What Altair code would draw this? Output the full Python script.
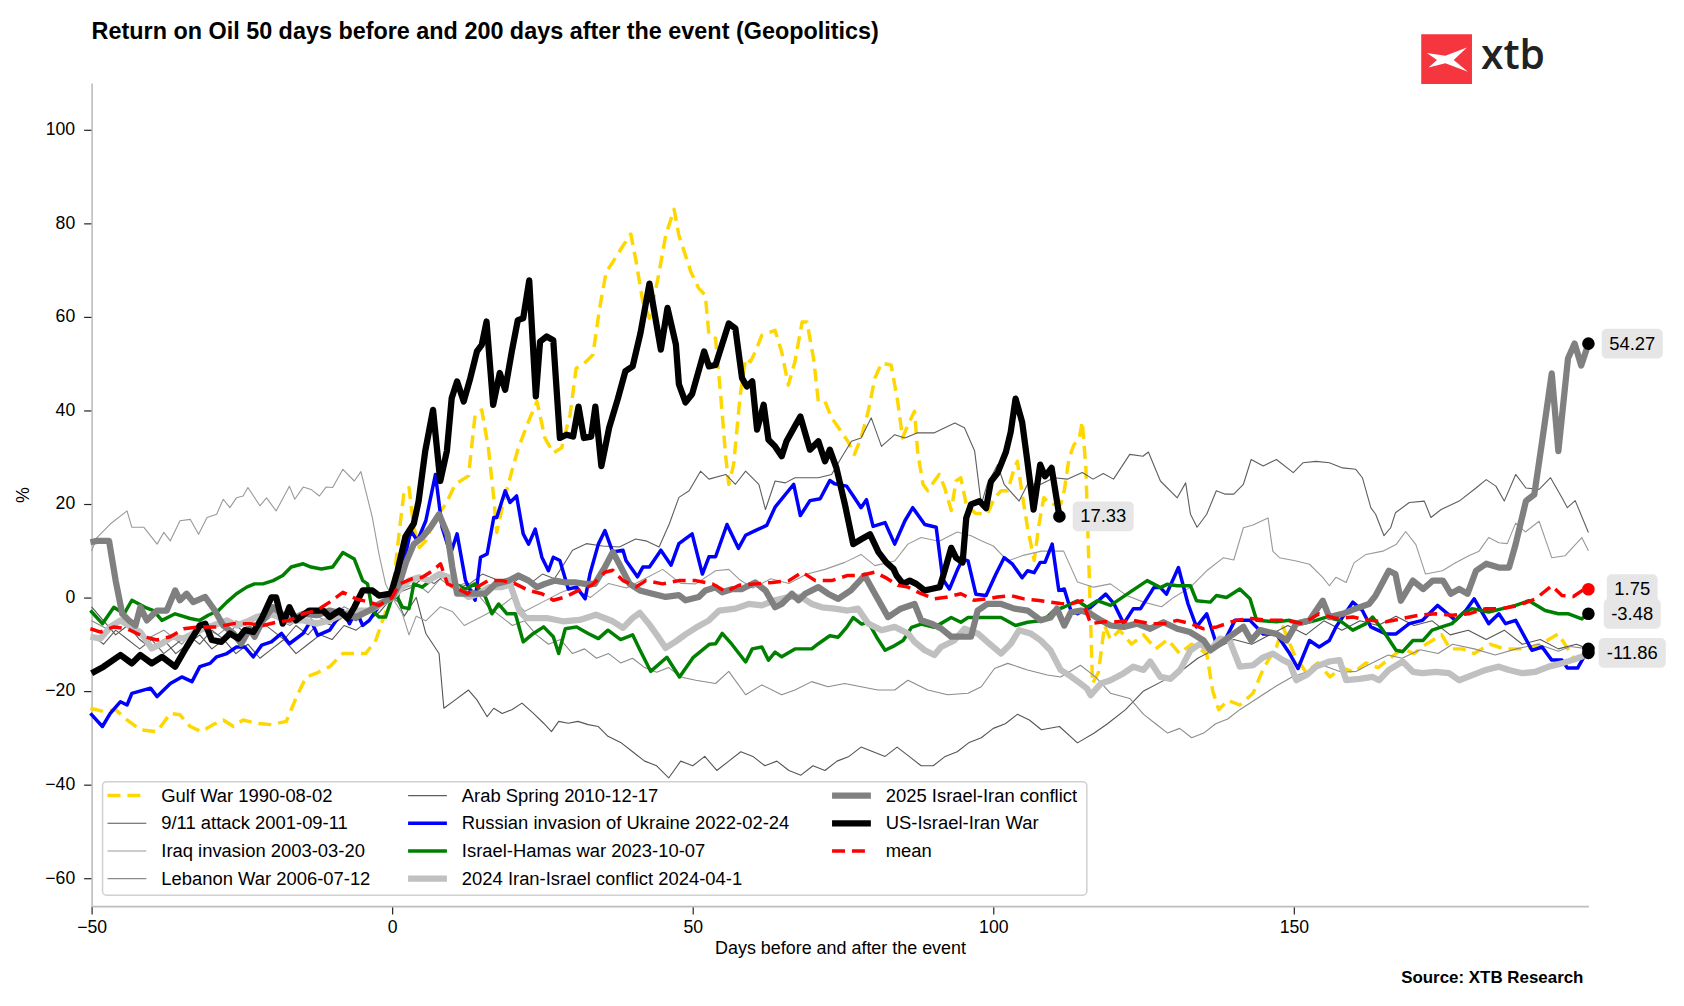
import altair as alt
import pandas as pd

FONT = "Liberation Sans"

# ---------------- data (day, return %) ----------------
GULF = [(-50.2,-23.7),(-48,-24.4),(-46,-24),(-44.1,-26.2),(-41.9,-28.3),(-39.1,-28.7),(-36.9,-24.8),
        (-35.3,-25.1),(-33.6,-27.6),(-31.7,-28.7),(-29.8,-27.2),(-28.1,-26.2),(-26.4,-27.6),(-24.8,-26.2),
        (-22.6,-26.9),(-20.1,-27.2),(-17.6,-26.5),(-15.9,-21.2),(-14.3,-17),(-12.6,-16.2),(-10.4,-14.8),
        (-8.2,-12),(-6,-12),(-4.4,-12),(-2.7,-9.1),(-1.6,-4.9),(-0.8,-2.1),(0,0),(1.2,14.3),(2,22.8),
        (2.8,23.5),(3.6,15),(4.5,10.7),(5.6,12.1),(7.2,17.1),(8.9,19.9),(10.5,24.2),(12.7,26),(13.8,39.1),
        (14.9,40.1),(16,32),(16.9,21.3),(17.4,13.9),(18.3,19.2),(19.9,27),(21,32),(22.7,37.7),(24.1,41.9),
        (25.4,34.1),(26.8,30.9),(28.2,32),(29.6,39.1),(30.6,49),(31.7,49.7),(33.4,51.9),(34.5,61.8),
        (35.6,69.6),(36.7,71.7),(38.4,75.2),(39.7,77.7),(40.6,71.7),(41.7,63.2),(42.8,59.7),(44.2,68.1),
        (45.5,77.4),(46.9,83),(47.7,77.4),(49.7,69.6),(51,66.1),(52.1,64.6),(52.7,56.1),(53.8,55.4),
        (54.6,44),(55.5,29.9),(56,24.2),(56.8,28.4),(57.9,43.3),(58.8,51.1),(59.6,50.4),(60.4,52.5),
        (61.5,56.1),(63.7,57.1),(64.8,52.5),(65.9,45.4),(67,50.4),(68.2,58.9),(69,58.9),(70.1,51.1),
        (70.9,41.9),(72,41.9),(73.1,38.4),(74.7,35.5),(75.8,33.4),(76.9,30.6),(78,34.1),(79.2,39.8),
        (80.3,46.9),(81.4,50.1),(83,49.7),(84.1,41.9),(84.9,34.1),(85.8,36.9),(86.9,39.8),(87.4,31.3),
        (88.3,24.2),(89.1,22.8),(90.2,24.9),(91,26.3),(91.9,23.5),(93,18.6),(93.8,24.9),(94.6,25.6),
        (95.5,19.9),(97,18),(99,17.8),(100.2,21.3),(101.3,22.8),(102.4,22.8),(103.5,27.7),(104,29.1),
        (104.9,21.3),(105.7,14.9),(106.8,7.9),(107.6,15.6),(108.4,21.3),(109.5,19.9),(111.2,19.9),
        (111.8,22.8),(112.6,29.8),(113.4,32.6),(114.3,34.1),(114.8,37.6),(115.4,27.7),(116,3),(116.5,-18.4),
        (117.5,-16),(118.5,-6),(119.5,-9),(121,-7),(123,-10),(125,-8),(127,-11),(129,-9),(131,-12),
        (133,-10),(135.5,-12),(136.5,-20),(137.5,-24),(139,-22),(141,-23),(143.2,-20.5),(145,-15),
        (147.1,-10.6),(148.2,-6.3),(150,-12),(152,-16),(154,-14),(156,-17),(158,-15),(160,-16),(162,-14),
        (164,-15),(166,-13),(168,-11),(170,-12),(172,-10),(174.6,-8),(176,-11),(178,-11),(180,-12),
        (182.6,-10),(185,-11),(188.8,-11),(191,-10),(194,-7.8),(196.8,-13.5),(199,-12)]

NINE11 = [(-50,-2),(-48,-5),(-46,-8),(-44,-6),(-42,-9),(-40,-11),(-38,-9),(-36,-12),(-34,-10),(-32,-8),
          (-30,-11),(-28,-9),(-26,-12),(-24,-10),(-22,-13),(-20,-11),(-18,-9),(-16,-12),(-14,-10),(-12,-8),
          (-10,-9),(-8,-6),(-6,-7),(-4,-5),(-2,-3),(0,0),(1,-1),(2,-4),(4,0),(5.6,-7.7),(7.8,-12),(8.6,-23.7),
          (10.5,-21.9),(12.7,-19.8),(14.1,-21.9),(15.8,-25.5),(16.9,-23.7),(18.3,-24.8),(19.9,-24),
          (21.6,-22.6),(23.5,-24.8),(25.2,-26.9),(26.5,-28.7),(27.7,-26.5),(29.3,-26.9),(30.9,-26.5),
          (32.6,-27.2),(34.3,-27.6),(35.9,-29.7),(38,-31),(40,-33),(42,-35),(44,-36),(46,-38.6),(48,-35),
          (50,-36),(52,-34),(54,-37),(56,-35),(58,-33),(60,-34),(62,-36),(64,-35),(66,-37),(68,-38),
          (70,-36),(72,-37),(74,-35),(76,-34),(78,-32),(80,-33),(82,-34),(84,-32),(86,-34),(88,-36),
          (90,-36),(92,-34),(94,-33),(96,-31),(98,-30),(100,-28),(102,-27),(104,-25),(106,-26.2),
          (108,-28.3),(111,-27.6),(114,-31.1),(116.8,-29),(119,-27),(122,-24),(125,-20),(128,-18),
          (131,-16),(134,-13),(137,-11),(140,-9),(143,-10),(146,-8),(149,-6),(152,-8),(155,-5),(158,-7),
          (161,-5),(164,-6),(167,-4),(170,-6),(173,-5),(176,-8),(179,-7),(182,-9),(185,-7),(188,-10),
          (191,-9),(194,-11),(197,-10),(199,-11)]

IRAQ = [(-50,10),(-49.1,12.8),(-46.9,15.7),(-44.1,18.5),(-43.3,15),(-41.3,15),(-39.1,11.4),(-38,13.9),
        (-36.9,12.1),(-35.3,16.4),(-33.6,16.7),(-32.2,13.5),(-30.8,17.1),(-29.2,17.8),(-28.1,21),(-27,19.2),
        (-25.9,21.3),(-24.8,21.7),(-24,23.5),(-22,19.6),(-20.9,21.3),(-19.3,18.5),(-17.1,23.8),(-16.2,21),
        (-14.8,23.6),(-13.5,23.1),(-12.1,21.7),(-11,23.6),(-9.9,23.5),(-8.2,27.4),(-6.3,24.9),(-5.2,26.9),
        (-4.4,22.8),(-3.3,17.1),(-2.2,9.3),(-1.1,2.9),(0,0),(1.7,-3.5),(2.8,-8),(4,-4),(5.6,-5),(8,-2),
        (10,-3),(12,-6),(15,-4),(18,-2),(20,0),(22,-3),(25,-1),(28,1),(30,2),(33,0),(36,3),(39,2),(42,4),
        (45,6),(48,3),(50.5,2.9),(53.8,5.7),(56,6),(57.7,3.9),(60,2),(63,4),(66,3),(69,5),(72,6),(75.3,7.5),
        (78,9.2),(80.3,6.8),(83.6,7.8),(85.8,11.4),(88,12.8),(91,12),(94,14),(96.3,13.2),(98,12.1),(100,11),
        (102.4,7.8),(105,9),(108,9.9),(111.7,9.9),(114,3.3),(116.7,2.2),(119.5,2.9),(122.2,0.4),(125,-1),
        (128,-2),(130,0),(132.8,2.2),(135.5,5.7),(138.3,8.5),(140,8),(141.6,14.9),(143.2,15.5),(145.7,17),
        (146.5,9.9),(147.6,8.5),(150.4,7.8),(152.6,7.1),(154.8,4.3),(155.9,2.5),(157,4.3),(158.7,3.2),
        (160,7.4),(162,9.2),(164.8,9.9),(167,11.3),(168.6,14.1),(170.3,11.3),(171.9,5),(174.7,5.7),
        (176.9,7.4),(179.1,8.9),(180.8,9.9),(182.4,12.8),(184.1,11.7),(185.5,11.5),(186.9,15.9),(188.5,14),
        (190.8,16.3),(192.9,8.5),(195.1,8.9),(197.9,12.8),(199,10)]

LEBANON = [(-50,-5),(-47,-7),(-44,-4),(-41,-9),(-38,-7),(-35,-10),(-32,-6),(-29,-8),(-26,-5),(-23,-7),
           (-20,-4),(-17,-6),(-14,-3),(-11,-5),(-8,-2),(-5,-4),(-2,-1),(0,0),(2,2),(4,3),(6,1),(8,4),(10,2),
           (12,3),(14,1),(16,-2),(18,-4),(20,-6),(22,-5),(24,-8),(26,-10),(28,-9),(30,-12),(32,-11),(34,-13),
           (36,-12),(38,-14),(40,-13),(42,-15),(44,-16),(46,-15),(48,-17),(50.5,-17.7),(53.8,-18.4),
           (56,-15.8),(58.8,-20.8),(61.5,-18.7),(64.8,-20.8),(67,-19.8),(69.8,-18),(72.5,-19.1),(75.3,-18.4),
           (78,-19.1),(80.8,-19.8),(83.6,-19.8),(85.8,-17.7),(89.1,-19.8),(92.4,-20.8),(95.8,-20.5),
           (98,-19.1),(100.2,-15.2),(102.4,-14.1),(105.7,-15.5),(109,-16.6),(111.2,-17),(114.5,-14.5),
           (117,-17),(119.5,-20.5),(122.7,-21.6),(125,-25),(127,-27),(129,-29),(131,-28),(133,-30),(135,-29),
           (137,-27),(139,-26),(141,-24),(144,-21.5),(147,-19),(149.7,-17),(152,-16),(155,-14.6),(158,-16),
           (160.4,-15.8),(163,-14),(165.7,-12.3),(168,-13),(171,-11.2),(174,-12),(176.4,-10),(180,-11),
           (183.5,-12.3),(187,-11),(190.6,-10),(194,-11.5),(196,-10.5),(199,-11)]

ARAB = [(-50,-8),(-48,-10),(-46,-7),(-44,-9),(-42,-11),(-40,-9),(-38,-12),(-36,-10),(-34,-8),(-32,-10),
        (-30,-7),(-28,-9),(-26,-6),(-24,-8),(-22,-5),(-20,-7),(-18,-9),(-16,-6),(-14,-8),(-12,-5),(-10,-6),
        (-8,-4),(-6,-5),(-4,-3),(-2,-2),(0,0),(1,1),(3,2),(5,4),(7,3),(9,5),(11,2),(13,3),(15,5),(17,4),
        (19,2),(21,4),(23,3),(25,5),(27,4),(29,8),(30,10.1),(32.3,11.5),(35,11),(37.8,10.8),(40.5,12.5),
        (42.2,12.1),(44.4,10.8),(46.1,15.7),(47.7,21.4),(49.4,22.8),(51.3,27),(52.7,25.3),(55.5,26.3),
        (57.1,24.2),(58.8,27),(61,24.2),(62.1,18.8),(63.7,24.9),(65.4,24.5),(67,25.6),(70.9,25.6),
        (73.1,26.3),(74.7,29.8),(76.4,33.4),(78,34.1),(79.7,38.4),(81.4,32.3),(83.6,34.8),(85.3,34.1),
        (87.4,35.2),(90.2,35.2),(93.6,37.3),(95.2,36.3),(96.9,31.3),(98,19.9),(99,24.2),(100.7,28.4),
        (101.8,24.2),(104.3,20.6),(105.7,24.2),(107.9,24.2),(110.1,25.6),(112.3,25.3),(114.8,26.7),
        (116.6,25.3),(118.3,26.5),(120,25.3),(122.7,30.6),(124.9,30.2),(125.8,31.1),(127.8,24.9),
        (130.6,21.3),(132,24.5),(132.8,17.8),(133.9,15),(135.5,17.8),(137.1,22.8),(138.5,22.1),(140,22.1),
        (141.6,24.2),(142.9,29.5),(144.9,28.1),(147.1,29.5),(149.9,26.7),(151.5,28.8),(153.7,29.1),
        (155.9,28.8),(158.1,27.7),(160.3,27.4),(161.4,25.6),(162.8,19.2),(163.6,17.8),(165,13.2),
        (166.1,14.9),(166.9,18.1),(169.2,20.3),(171.7,20.6),(172.8,17.1),(174.5,18.8),(177.5,20.6),
        (180.3,23.4),(182,25.2),(183.6,23.8),(185,20.6),(186.9,26.3),(188.6,23.4),(190.8,23.1),(192.7,25.6),
        (194.6,21.3),(195.5,19.2),(196.8,20.7),(199,13.9)]

RUSSIA = [(-50.2,-24.8),(-48.2,-27.6),(-46.9,-24.8),(-45.2,-22.3),(-44.1,-23),(-43.3,-20.5),(-40.2,-19.4),
          (-39.1,-21.2),(-36.9,-18.4),(-35,-17),(-33.3,-18),(-32,-14.8),(-30.3,-14.1),(-29.2,-12.7),
          (-27.5,-12),(-25.9,-10.6),(-24.5,-10.6),(-23.1,-12.7),(-21.7,-10.2),(-20.1,-9.5),(-18.4,-7.7),
          (-17.1,-9.9),(-14.8,-7.7),(-13.5,-4.9),(-12.4,-8.1),(-10.4,-7),(-9.3,-4.9),(-8.2,-2.8),(-7.1,-5.6),
          (-6,-2.8),(-4.9,-6),(-3.8,-4.9),(-2.7,-2.8),(-1.6,-1),(0,0),(0.9,0.1),(2,7.9),(3.1,14.3),
          (4.2,12.1),(5.6,16.4),(7.2,26.3),(8.3,15),(9.7,9.3),(10.8,13.6),(12.2,3.6),(13.8,-0.6),(14.7,8.6),
          (15.8,9.3),(16.9,17.1),(17.4,17.1),(18.8,22.8),(19.6,20.3),(20.7,21.7),(21.8,13.6),(22.7,11.4),
          (23.8,14.6),(24.9,8.6),(26,5.7),(26.8,8.6),(27.9,7.9),(29.3,1.8),(30.7,2.2),(32.1,-0.3),(32.9,5),
          (34.3,11.4),(35.4,14.3),(36.7,9.7),(38.4,10.1),(38.9,7.9),(40.8,4.4),(41.7,6.5),(42.8,6.5),
          (44.7,10.1),(46.4,6.9),(47.7,11.5),(49.9,13.6),(51.6,5),(52.7,8.7),(53.8,8.7),(55.7,15.6),
          (57.6,10.5),(58.8,13.3),(60.4,14.3),(62.3,15.4),(63.7,19.3),(66.8,24.2),(67.9,17.5),(69.5,20.7),
          (71.2,21.1),(72.8,25),(73.6,24.3),(75.6,23.8),(76.9,21.3),(78,19.2),(78.9,20.9),(80,15.2),(82,16),
          (83.6,11.4),(85.3,16.4),(86.6,19.2),(88.6,15.6),(90.5,15),(91.6,3.9),(92.7,1.8),(94.1,6.1),
          (94.9,8.2),(95.8,7.8),(97.1,0.7),(98.8,0.4),(100.4,4.9),(101.8,8.5),(103.2,7.1),(104.8,4.2),
          (105.7,5.7),(106.8,5.3),(107.8,7.5),(108.6,7.5),(109.8,11.4),(110.9,1.5),(111.8,1.8),(112.9,-2.8),
          (114,-3.5),(116.2,-2.1),(118.7,0.7),(120.1,-1.4),(121.7,-5.6),(123.3,-2.4),(124.5,-2.4),(126.7,2.1),
          (127.8,2.1),(128.8,0.7),(130.8,6.4),(132.4,-1.4),(133.8,-6.3),(135.5,-3.5),(137.1,-9.9),
          (138.5,-9.2),(140.2,-4.9),(142.7,-4.9),(144.9,-7.8),(147.1,-7.8),(149.3,-12),(150.7,-15.2),
          (152.6,-9.2),(154.2,-10.6),(155.9,-9.2),(157,-6.3),(159.8,-1),(161.4,-2.8),(162.8,-6.3),
          (165.3,-7.8),(167,-7.8),(169.2,-5.6),(171.4,-4.9),(173.9,-1.7),(176.9,-4.9),(178.6,-2.8),(180,-0.3),
          (182.4,-5.6),(184.1,-3.5),(185.2,-5.6),(186.9,-4.9),(189.6,-11.3),(191.3,-10.6),(192.9,-13.4),
          (194.6,-13.4),(195.5,-15.1),(197.2,-15.1),(199,-11)]

HAMAS = [(-50.2,-2.8),(-48.2,-5.6),(-46.3,-2.1),(-44.6,-3.5),(-43.3,-0.6),(-41.1,-2.1),(-39.7,-2.8),
         (-38.3,-4.9),(-36.1,-3.5),(-33.6,-4.5),(-32,-4.9),(-30.6,-3.8),(-28.9,-2.8),(-27.5,-1),(-25.9,0.8),
         (-24.2,2.2),(-22.9,2.9),(-21.5,2.9),(-19.8,3.6),(-18.2,4.7),(-16.8,6.5),(-14.8,7.2),(-13.5,6.5),
         (-11.8,6.1),(-9.9,6.5),(-8.2,9.6),(-6.3,8.2),(-4.9,3.6),(-4.1,2.9),(-3.3,-2.8),(-2.2,-4.2),
         (-1.1,-4.2),(0,0),(0.6,0.8),(1.7,-2.1),(2.8,-2.4),(3.6,2.9),(5,2.2),(6.7,3.9),(8.3,5),(10,3.2),
         (12.2,1.8),(13.8,2.9),(15.5,0.1),(16.6,-3.5),(17.7,-1.4),(19.1,-3.5),(20.5,-3.5),(21.8,-9.5),
         (23.5,-7.7),(25.2,-6.3),(26.8,-8.4),(27.7,-12),(28.8,-6.7),(30.7,-6.3),(32.6,-7.7),(34.3,-8.8),
         (35.9,-7),(38,-9),(40,-8),(41.2,-11.2),(43,-15.8),(45.7,-12.8),(47.8,-17),(50.1,-12.8),(52.8,-10),
         (53.8,-9.9),(54.9,-7.7),(56.5,-10),(58.8,-13.8),(59.9,-11),(61.5,-10.6),(62.6,-13.4),(63.7,-11.7),
         (64.8,-12.7),(67,-11),(69.8,-11),(70.9,-9.9),(72.8,-8.2),(74.2,-8.5),(75.6,-6.4),(76.7,-4.3),
         (78.1,-5.7),(79.2,-5.3),(80.6,-8.5),(82,-11.3),(83.6,-10.3),(85,-9.2),(86.4,-6.4),(88,-5.7),
         (90.2,-6.4),(93,-4.3),(94.6,-5.3),(95.8,-4.3),(98.5,-4.3),(101.3,-4.3),(103.7,-6),(105.7,-5.3),
         (108.4,-4.9),(110.1,-2.8),(111.7,-2.1),(114,-0.7),(115.6,-2.1),(117.3,-0.7),(119.5,-1.7),
         (121.1,-0.3),(122.8,1.2),(125.6,3.6),(127.8,2.1),(128.9,2.8),(130.6,2.5),(132.8,2.5),(133.8,-0.7),
         (136.1,-1),(137.1,0.4),(138.8,0),(141,1.8),(142.7,-0.3),(143.8,-4.9),(147.1,-5.2),(149.3,-4.9),
         (151.5,-5.6),(153.7,-4.9),(155.4,-4.2),(157.6,-4.9),(159.8,-7),(162,-5.6),(163.1,-4.2),(164.8,-7),
         (167,-11.3),(168.1,-11.6),(169.8,-9.2),(171.5,-9.2),(173,-7),(174.6,-6.3),(176.3,-5.6),(178,-3.5),
         (179.6,-2.4),(182.4,-3.1),(184.7,-2.4),(186.9,-1.7),(189.1,-0.7),(191.8,-2.8),(194,-3.5),
         (195.7,-3.5),(197.9,-4.6),(199,-3.48)]

Y2024 = [(-50.2,-8.4),(-48.5,-8.8),(-46.9,-6.3),(-45.2,-4.9),(-43.5,-6.3),(-41.9,-7.4),(-40,-10.9),
         (-38.3,-9.9),(-36.6,-8.4),(-34.7,-8.8),(-33.1,-7.7),(-31.4,-6.7),(-29.8,-6),(-27.5,-4.9),(-25.9,-6),
         (-24.2,-5.2),(-22.6,-4.2),(-20.4,-3.5),(-18.7,-4.2),(-17.1,-4.9),(-14.8,-4.9),(-12.6,-5.6),
         (-10.4,-4.9),(-8.2,-3.5),(-6,-2.8),(-3.8,-2.8),(-2.2,-1.7),(0,0),(1.2,1.5),(2.8,3.6),(4.5,4.3),
         (6.1,3.6),(7.8,5),(9.4,4.3),(11.1,1.5),(12.7,0.1),(14.4,0.8),(16.1,2.2),(18.3,2.2),(19.6,2.9),
         (21.2,-3),(22.3,-4.4),(25.7,-4.4),(28.4,-5.1),(31.2,-4.8),(33.9,-3.7),(36.7,-5.1),(38.4,-6.5),
         (40,-4.4),(41.2,-3.3),(42.8,-5.8),(44.4,-8.7),(45.5,-10.8),(47.2,-9.4),(48.8,-7.9),(50.5,-6.5),
         (52.7,-4.9),(54.4,-2.8),(57.1,-2.4),(59.3,-1.4),(61.5,-1.7),(63.7,-0.6),(65.9,0.1),(68,0.1),
         (69.8,-1.4),(71.5,-2.1),(73.6,-2.4),(75.8,-2.8),(77.5,-2.4),(79.2,-5.6),(81.4,-7),(83.6,-6.3),
         (85.8,-7.7),(86.9,-9.5),(88.6,-11.3),(90.2,-12.3),(91.3,-10.6),(93.5,-9.2),(95.2,-6.7),(97.4,-7.7),
         (99,-9.5),(101.3,-12),(102.9,-9.9),(104.3,-7),(106.2,-7.7),(107.9,-9.2),(109.5,-11.3),(111.2,-15.5),
         (112.9,-16.9),(114.5,-18.4),(115.6,-19.5),(116.2,-20.9),(117.9,-18.4),(119.5,-17.7),(121.7,-16.2),
         (123.3,-14.8),(125,-15.5),(126.1,-13.7),(127.8,-17),(129.5,-17.4),(131.1,-15.5),(132.8,-11.3),
         (134.4,-9.9),(136.1,-11.3),(137.7,-8.8),(139.3,-9.2),(141,-14.8),(143.2,-14.5),(144.9,-12.8),
         (146.5,-12),(148.2,-13.4),(149.3,-14.1),(150.4,-17.7),(152.1,-16.6),(153.7,-14.8),(155.9,-13.7),
         (157.6,-13.4),(158.7,-17.7),(160.9,-17.4),(163.1,-17),(164.2,-17.7),(165.8,-15.5),(168.1,-13.7),
         (169.8,-15.9),(171.4,-16.2),(173.6,-15.9),(175.8,-16.2),(177.5,-17.7),(179.7,-16.6),(181.9,-15.5),
         (184.1,-14.8),(185.8,-15.5),(188,-16.2),(190.2,-15.9),(192.4,-14.8),(194.6,-14.1),(196.5,-13.3),
         (198,-12.6),(199,-11.86)]

Y2025 = [(-50.2,11.8),(-49.1,12.1),(-47.1,12.1),(-46,3.6),(-44.9,-3.5),(-43.8,-4.9),(-42.7,-6),(-41.9,-2.1),
         (-40.8,-4.9),(-39.1,-2.8),(-37.5,-2.8),(-36.1,1.5),(-35.3,-0.6),(-34.2,0.8),(-33.1,-1),(-31.1,0.1),
         (-29.5,-2.8),(-28.1,-6),(-26.4,-7.7),(-25.1,-9.9),(-23.7,-6.7),(-22.9,-8.4),(-21.5,-4.9),
         (-19.8,-2.1),(-18.4,-3.5),(-17.1,-4.9),(-14.8,-3.5),(-12.6,-3.8),(-10.4,-2.8),(-8.2,-3.5),(-6,-4.2),
         (-3.8,-2.8),(-2.2,-1.4),(0,0),(1.2,2.9),(2.3,7.5),(3.6,11.4),(5,12.8),(6.4,15),(7.8,17.8),(9.2,13.5),
         (10,6.5),(10.8,0.8),(12.2,0.8),(13.8,0.8),(15.5,0.8),(17.2,2.9),(19.4,3.6),(21,4.7),(22.7,3.6),
         (24.1,2.2),(25.4,2.9),(27.1,3.6),(28.8,3.2),(30.4,3.2),(32.1,2.9),(33.7,2.9),(35.4,6.5),(36.7,9.7),
         (37.8,7.1),(39.5,2.9),(41.2,1.5),(43.3,0.8),(45.5,0.1),(47.7,0.5),(48.8,-0.6),(51,0.1),(52.1,1.5),
         (53.8,2.2),(54.9,1.1),(56.6,1.8),(58.2,1.8),(60.4,3.2),(62.1,1.5),(63.7,-2.1),(64.8,-1.4),(66.5,0.8),
         (67.6,-0.6),(68.7,0.8),(70.9,2.2),(72.5,0.8),(74.2,-0.3),(76.3,1.5),(78.6,4.7),(80.3,0.8),
         (82.5,-4.2),(84.6,-2.4),(86.9,-1.4),(88,-4.9),(89.7,-5.6),(91.3,-6.6),(93,-8.4),(94.6,-8.4),
         (96.3,-8.4),(97.4,-2.8),(99,-1.4),(101.3,-1.4),(103.5,-2.4),(105.7,-2.8),(107.9,-4.9),(109.5,-4.3),
         (110.6,-2.4),(111.8,-6),(112.9,-3.2),(114.6,-2.8),(116.2,-3.5),(117.9,-4.9),(119.5,-6),(121.7,-6.3),
         (123.9,-5.6),(126.1,-6.7),(128.3,-5.3),(130.6,-6.7),(132.7,-7.4),(135,-9.2),(136.1,-11.3),
         (137.7,-9.9),(139.3,-8.4),(141.6,-6.3),(142.9,-9.2),(144.4,-7),(147.1,-7.8),(148.8,-9.2),
         (150.4,-5.6),(152.6,-4.9),(154.8,-0.7),(155.9,-4.2),(158.1,-3.5),(160.3,-2.4),(162.5,-1.4),
         (163.6,0.4),(165.8,5.7),(166.9,5),(167.8,-0.7),(169.8,3.6),(171.5,1.8),(173.1,3.6),(174.8,3.6),
         (176.1,0.8),(177.5,1.8),(178.9,0.8),(180.3,5.7),(182,7.2),(184.1,6.4),(185.8,6.4),(186.9,11.4),
         (188.6,20.6),(190,22),(191.3,33.4),(192.9,47.9),(194,31.3),(195.6,51.1),(196.7,54.3),(197.8,49.6),
         (199,54.27)]

US = [(-50,-16.2),(-48,-14.8),(-45.2,-12.3),(-43.3,-14.1),(-41.9,-12.3),(-40,-14.1),(-38.3,-12.7),
      (-36.1,-14.8),(-34.2,-10.6),(-32,-6),(-31.1,-5.6),(-30,-9.1),(-28.4,-9.5),(-27,-7.7),(-25.6,-8.8),
      (-24.5,-7),(-23.1,-7.4),(-21.7,-4.5),(-20.1,0),(-19.3,0),(-18.2,-5.6),(-17.1,-2.1),(-16,-4.9),
      (-13.8,-2.8),(-11.5,-2.8),(-10.4,-4.2),(-8.8,-2.8),(-7.4,-4.5),(-6.3,-2.1),(-4.9,1.5),(-3.3,1.5),
      (-2.2,0.4),(-0.2,0.8),(0.9,5.7),(2.2,13),(3.6,15.8),(4.4,20.6),(5.5,31.3),(6.8,40.1),(8,24.9),
      (9.1,31.3),(9.9,42.6),(10.8,46.2),(11.9,41.9),(13,46.9),(14.1,52.6),(14.9,54),(15.7,59),(16.8,41.2),
      (17.9,48),(18.8,44.4),(19.9,52.6),(20.9,59.3),(21.8,59.7),(22.8,67.8),(23.9,43),(24.6,54.7),
      (25.7,55.8),(26.8,55),(27.9,34.1),(29,34.8),(30.1,34.4),(31,40.8),(31.9,34.1),(33.1,34.4),(33.8,40.8),
      (34.8,28.1),(36.1,36.3),(37.5,42.3),(38.8,48.4),(40,49.4),(41.3,56.5),(42.8,67.1),(44.7,53),
      (45.8,61.9),(47.2,54.1),(47.7,45.6),(48.8,41.7),(49.9,43.5),(51.9,52.6),(52.7,49.4),(53.8,49.7),
      (56,58.6),(57.1,57.5),(58.2,46.9),(59,45.1),(59.9,46.2),(60.7,35.9),(61.8,41.2),(62.6,33.7),
      (63.7,32.3),(64.8,30.2),(65.6,33.4),(66.8,36.2),(67.9,38.7),(69.5,31.6),(70.9,33.4),(72,29.1),
      (72.8,31.6),(73.9,27.7),(75.3,20),(76.7,11.4),(78.1,12.5),(79.5,13.5),(80.9,9.7),(82.2,7.5),
      (83.4,6.1),(83.9,4.7),(85,2.9),(86.1,3.6),(87.2,2.9),(88.6,1.5),(89.7,1.8),(91.1,2.2),(91.9,5.7),
      (93,10.6),(93.8,8.5),(94.9,7.5),(95.5,17),(96.3,19.9),(97.7,20.6),(98.8,19.1),(99.6,24.8),
      (100.7,26.6),(102.1,31.1),(102.9,35.4),(103.7,42.5),(104.8,37.5),(105.6,29.8),(106.7,18.8),
      (107.8,28.4),(108.6,25.9),(109.7,27.7),(111,17.33)]

MEAN = [(-50.2,-6.7),(-48.5,-7.4),(-46.3,-6.3),(-44.1,-6.7),(-41.3,-8.4),(-39.1,-9.1),(-36.9,-8.4),
        (-34.7,-6.7),(-32,-6.3),(-29.2,-6.3),(-26.4,-5.6),(-23.7,-5.6),(-21.5,-6),(-19.3,-5.3),(-17.1,-4.9),
        (-14.8,-3.5),(-12.6,-2.8),(-10.4,-1),(-8.2,1.1),(-6,-0.3),(-3.8,-1),(-2.2,-1.7),(0,0),(1.2,2.9),
        (3.4,4),(5,4.3),(6.7,5.7),(8.05,7.2),(9.2,2.9),(10.5,2.2),(12.5,0.8),(14.1,2.2),(16,3.6),(18.3,3.6),
        (20.5,2.9),(22.7,1.5),(24.9,0.8),(26.8,-0.6),(28.8,0.1),(31,1.5),(33.2,2.6),(35.4,5.4),(36.7,5.8),
        (38.4,3.6),(40.6,2.3),(42.2,3.6),(45,2.9),(47.7,3.6),(50.5,3.6),(53.3,2.9),(55.5,1.2),(57.7,2.6),
        (60.4,2.9),(63.2,3.2),(66,3.6),(68.2,5.4),(70.4,3.6),(73.1,3.6),(75.8,4.7),(78,4.7),(80.3,5.4),
        (82,4.3),(84.1,2.6),(85.8,2.2),(88,0.8),(90.2,-0.3),(92.4,0.1),(94.6,0.8),(96.8,-0.6),(99,-0.3),
        (100.7,0.1),(102.9,0.4),(105.1,-0.3),(107.3,-0.6),(109.5,-1),(111.2,-1.3),(112.9,-1.4),(114.8,-0.7),
        (116.2,-5.6),(118.4,-5.2),(120.6,-5.2),(123.3,-4.9),(126.1,-5.6),(128.5,-5.6),(130.6,-4.9),
        (132.8,-5.6),(135,-6.7),(137.2,-6.3),(140.4,-4.9),(142.9,-4.5),(145.7,-4.9),(148.5,-4.9),
        (151.5,-5.6),(154.2,-3.5),(157,-4.5),(159.8,-4.2),(162.5,-4.9),(165.3,-5.2),(168.1,-4.5),
        (170.8,-3.8),(173.6,-3.5),(176.3,-3.8),(179.1,-3.5),(181.9,-2.4),(184.7,-2.4),(187.4,-1.7),
        (190.2,-0.3),(192.9,2.5),(194.6,0.4),(196.5,0.2),(198,1.5),(199,1.75)]

# series names in matplotlib drawing (and legend) order
NAMES = ["Gulf War 1990-08-02", "9/11 attack 2001-09-11", "Iraq invasion 2003-03-20",
         "Lebanon War 2006-07-12", "Arab Spring 2010-12-17", "Russian invasion of Ukraine 2022-02-24",
         "Israel-Hamas war 2023-10-07", "2024 Iran-Israel conflict 2024-04-1", "2025 Israel-Iran conflict",
         "US-Israel-Iran War", "mean"]
POINTS = [GULF, NINE11, IRAQ, LEBANON, ARAB, RUSSIA, HAMAS, Y2024, Y2025, US, MEAN]

# end-of-line markers and labels
END_SERIES = ["2025 Israel-Iran conflict", "US-Israel-Iran War", "mean", "Israel-Hamas war 2023-10-07",
              "2024 Iran-Israel conflict 2024-04-1", "Russian invasion of Ukraine 2022-02-24"]
END_DAYS = [199, 111, 199, 199, 199, 199]
END_VALS = [54.27, 17.33, 1.75, -3.48, -11.86, -11.0]
END_TEXT = ["54.27", "17.33", "1.75", "-3.48", "-11.86", ""]

# ---------------- styling ----------------
STYLE = {
    NAMES[0]: ("#FFD700", 3.5, [13, 7]),
    NAMES[1]: ("#555555", 1.1, None),
    NAMES[2]: ("#999999", 1.1, None),
    NAMES[3]: ("#8c8c8c", 1.1, None),
    NAMES[4]: ("#5e5e5e", 1.1, None),
    NAMES[5]: ("#0000FF", 3.5, None),
    NAMES[6]: ("#008000", 3.5, None),
    NAMES[7]: ("#C0C0C0", 6.3, None),
    NAMES[8]: ("#808080", 6.3, None),
    NAMES[9]: ("#000000", 6.3, None),
    NAMES[10]: ("#FF0000", 3.5, [13, 7]),
}

rows = []
for name, pts in zip(NAMES, POINTS):
    for d, v in pts:
        rows.append({"series": name, "day": d, "val": v})
df = pd.DataFrame(rows)
end_df = pd.DataFrame({"series": END_SERIES, "day": END_DAYS, "val": END_VALS, "label": END_TEXT})
one_row = pd.DataFrame({"t": [""]})

W, H = 1504, 827
xscale = alt.Scale(domain=[-50, 199], nice=False, zero=False)
yscale = alt.Scale(domain=[-66, 110], nice=False, zero=False)

axis_common = dict(grid=False, labelFont=FONT, titleFont=FONT, labelFontSize=17.7, titleFontSize=18,
                   titleFontWeight="normal", labelColor="black", titleColor="black", tickSize=8,
                   tickColor="#222222", tickWidth=1.2, domainColor="#bdbdbd", domainWidth=1.6,
                   format="d", labelFlush=False)
xaxis = alt.Axis(values=[-50, 0, 50, 100, 150], title="Days before and after the event",
                 labelPadding=5, titlePadding=3, **axis_common)
yaxis = alt.Axis(values=list(range(-60, 101, 20)), title="%", labelPadding=9, titlePadding=12,
                 **axis_common)

base = alt.Chart(df)
xy = dict(x=alt.X("day:Q", scale=xscale), y=alt.Y("val:Q", scale=yscale))

layers = []
for i, n in enumerate(NAMES):
    col, lw, dash = STYLE[n]
    mk = dict(color=col, strokeWidth=lw, strokeJoin="round")
    if dash:
        mk["strokeDash"] = dash
    if i == 0:
        enc = dict(x=alt.X("day:Q", scale=xscale, axis=xaxis), y=alt.Y("val:Q", scale=yscale, axis=yaxis))
    else:
        enc = xy
    layers.append(base.transform_filter(alt.datum.series == n).mark_line(**mk).encode(**enc))

# end markers
ends = alt.Chart(end_df)
layers.append(ends.transform_filter(alt.datum.series != "mean")
              .mark_circle(size=160, opacity=1, color="black").encode(**xy))
layers.append(ends.transform_filter(alt.datum.series == "mean")
              .mark_circle(size=160, opacity=1, color="#ff0000").encode(**xy))

CHAR_W = {".": 5.1, "-": 6.2}
for txt in END_TEXT:
    if not txt:
        continue
    w = 15 + sum(CHAR_W.get(c, 10.3) for c in txt)
    layers.append(ends.transform_filter(alt.datum.label == txt)
                  .mark_rect(width=w, height=30, xOffset=44, cornerRadius=5, color="#e6e6e6")
                  .encode(**xy))
layers.append(ends.transform_filter(alt.datum.label != "")
              .mark_text(dx=44, align="center", baseline="middle", font=FONT, fontSize=18.5, color="black")
              .encode(text="label:N", **xy))

# legend (matplotlib style: 3 columns, filled column by column)
LEG_X, LEG_Y, LEG_W, LEG_H = 11, 702, 989, 114
COL_X = [16, 318, 744]
ROW_Y0, ROW_DY = 716, 27.8
layers.append(alt.Chart(one_row).mark_rect(fill="white", stroke="#cccccc", strokeWidth=1.5, cornerRadius=4,
                                           opacity=0.9)
              .encode(x=alt.value(LEG_X), x2=alt.value(LEG_X + LEG_W), y=alt.value(LEG_Y),
                      y2=alt.value(LEG_Y + LEG_H)))
for i, n in enumerate(NAMES):
    col, lw, dash = STYLE[n]
    cx = COL_X[i // 4]
    cy = ROW_Y0 + ROW_DY * (i % 4)
    mk = dict(color=col, strokeWidth=lw)
    if dash:
        mk["strokeDash"] = dash
    layers.append(alt.Chart(one_row).mark_rule(**mk)
                  .encode(x=alt.value(cx), x2=alt.value(cx + 39), y=alt.value(cy), y2=alt.value(cy)))
    layers.append(alt.Chart(one_row).mark_text(text=n, align="left", baseline="middle", font=FONT,
                                               fontSize=18.5, color="black")
                  .encode(x=alt.value(cx + 54), y=alt.value(cy)))

# title, source and logo
layers.append(alt.Chart(one_row).mark_text(
    text="Return on Oil 50 days before and 200 days after the event (Geopolitics)",
    align="left", baseline="alphabetic", font=FONT, fontSize=23.5, fontWeight="bold", color="black")
    .encode(x=alt.value(0), y=alt.value(-44)))
layers.append(alt.Chart(one_row).mark_text(text="Source: XTB Research", align="right", baseline="middle",
                                           font=FONT, fontSize=17, fontWeight="bold", color="black")
              .encode(x=alt.value(W - 5), y=alt.value(H + 72)))
layers.append(alt.Chart(one_row).mark_rect(color="#f5363e")
              .encode(x=alt.value(1336), x2=alt.value(1387), y=alt.value(-49), y2=alt.value(1)))
X_PATH = ("M-0.78,-0.24 L-0.05,-0.13 L0.8,-0.46 L0.28,0.03 L0.84,0.5 L-0.05,0.16 "
          "L-0.71,0.33 L-0.38,0.03 Z")
layers.append(alt.Chart(one_row).mark_point(shape=X_PATH, filled=True, color="white", opacity=1,
                                            size=2601, strokeWidth=0)
              .encode(x=alt.value(1361.5), y=alt.value(-24)))
layers.append(alt.Chart(one_row).mark_text(text="xtb", align="left", baseline="alphabetic",
                                           font="Open Sans", fontSize=41, fontWeight=600, color="#222222")
              .encode(x=alt.value(1396), y=alt.value(-14)))

chart = alt.layer(*layers).properties(
    width=W, height=H,
    autosize=alt.AutoSizeParams(type="none"),
    padding={"left": 84, "top": 73, "right": 88, "bottom": 98},
).configure(background="white").configure_view(strokeWidth=0, stroke="transparent")

chart.save("out.html", embed_options={"renderer": "svg", "actions": False})
